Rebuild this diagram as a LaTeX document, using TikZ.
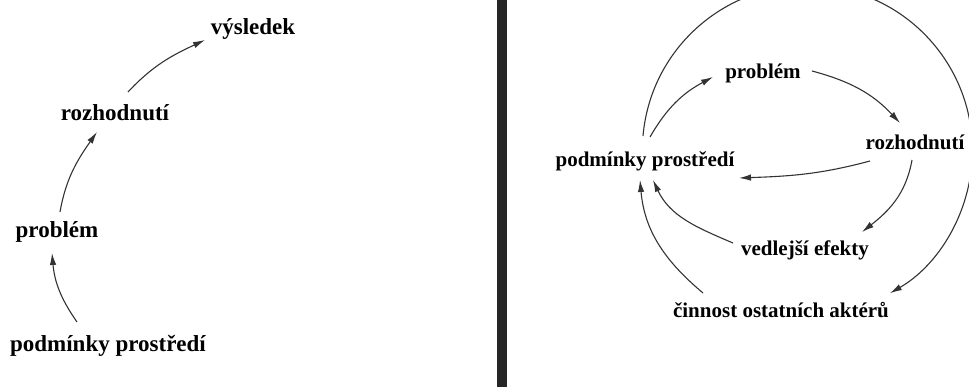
\documentclass[tikz,border=0pt]{standalone}
\usepackage{fontspec}
\setmainfont{Liberation Serif}
\usepackage{tikz}
\usetikzlibrary{arrows.meta}

\tikzset{
  lblL/.style={font=\fontsize{23}{25}\selectfont\bfseries, text=black, inner sep=0pt},
  lblR/.style={font=\fontsize{21}{24}\selectfont\bfseries, text=black, inner sep=0pt},
  arr/.style={-{Latex[length=12pt,width=6.5pt]}, draw=black!80, line width=1.1pt},
}

\begin{document}
\begin{tikzpicture}[x=1pt,y=1pt]
\useasboundingbox (0,0) rectangle (969,387);
\clip (0,0) rectangle (969,387);
% dividing bar
\fill[black!85] (497,0) rectangle (507,387);
% left panel
\node[lblL] (podL) at (108,41) {podmínky prostředí};
\node[lblL] (proL) at (57,155) {problém};
\node[lblL] (rozL) at (115,274) {rozhodnutí};
\node[lblL] (resL) at (253,358) {výsledek};
\draw[arr] ([shift={(-31,24)}]podL.center) to[out=125,in=-85] ([shift={(-5,-21)}]proL.center);
\draw[arr] ([shift={(3,20)}]proL.center) to[out=80,in=235] ([shift={(-18,-19)}]rozL.center);
\draw[arr] ([shift={(13,21)}]rozL.center) to[out=47,in=205] ([shift={(-48,-11)}]resL.center);
% right panel
\node[lblR] (podR) at (645,226) {podmínky prostředí};
\node[lblR] (proR) at (763,314) {problém};
\node[lblR] (rozR) at (915,245) {rozhodnutí};
\node[lblR] (vedR) at (805,137) {vedlejší efekty};
\node[lblR] (cinR) at (781,77) {činnost ostatních aktérů};
\draw[arr] ([shift={(5,24)}]podR.center) to[out=60,in=208] ([shift={(-50,-4)}]proR.center);
\draw[arr] ([shift={(49,2)}]proR.center) to[out=-15,in=133] ([shift={(-15,19)}]rozR.center);
\draw[arr] ([shift={(-45,-19)}]rozR.center) to[out=195,in=2] ([shift={(94,-17)}]podR.center);
\draw[arr] ([shift={(-3,-18)}]rozR.center) to[out=-100,in=38] ([shift={(57,18)}]vedR.center);
\draw[arr] ([shift={(-72,7)}]vedR.center) to[out=157,in=-65] ([shift={(8,-19)}]podR.center);
\draw[arr] ([shift={(-78,17)}]cinR.center) to[out=140,in=-85] ([shift={(-5,-19)}]podR.center);
% big loop over the top
\draw[arr] ([shift={(-2,25)}]podR.center) arc[start angle=175,end angle=-60,radius=165];
\end{tikzpicture}
\end{document}
